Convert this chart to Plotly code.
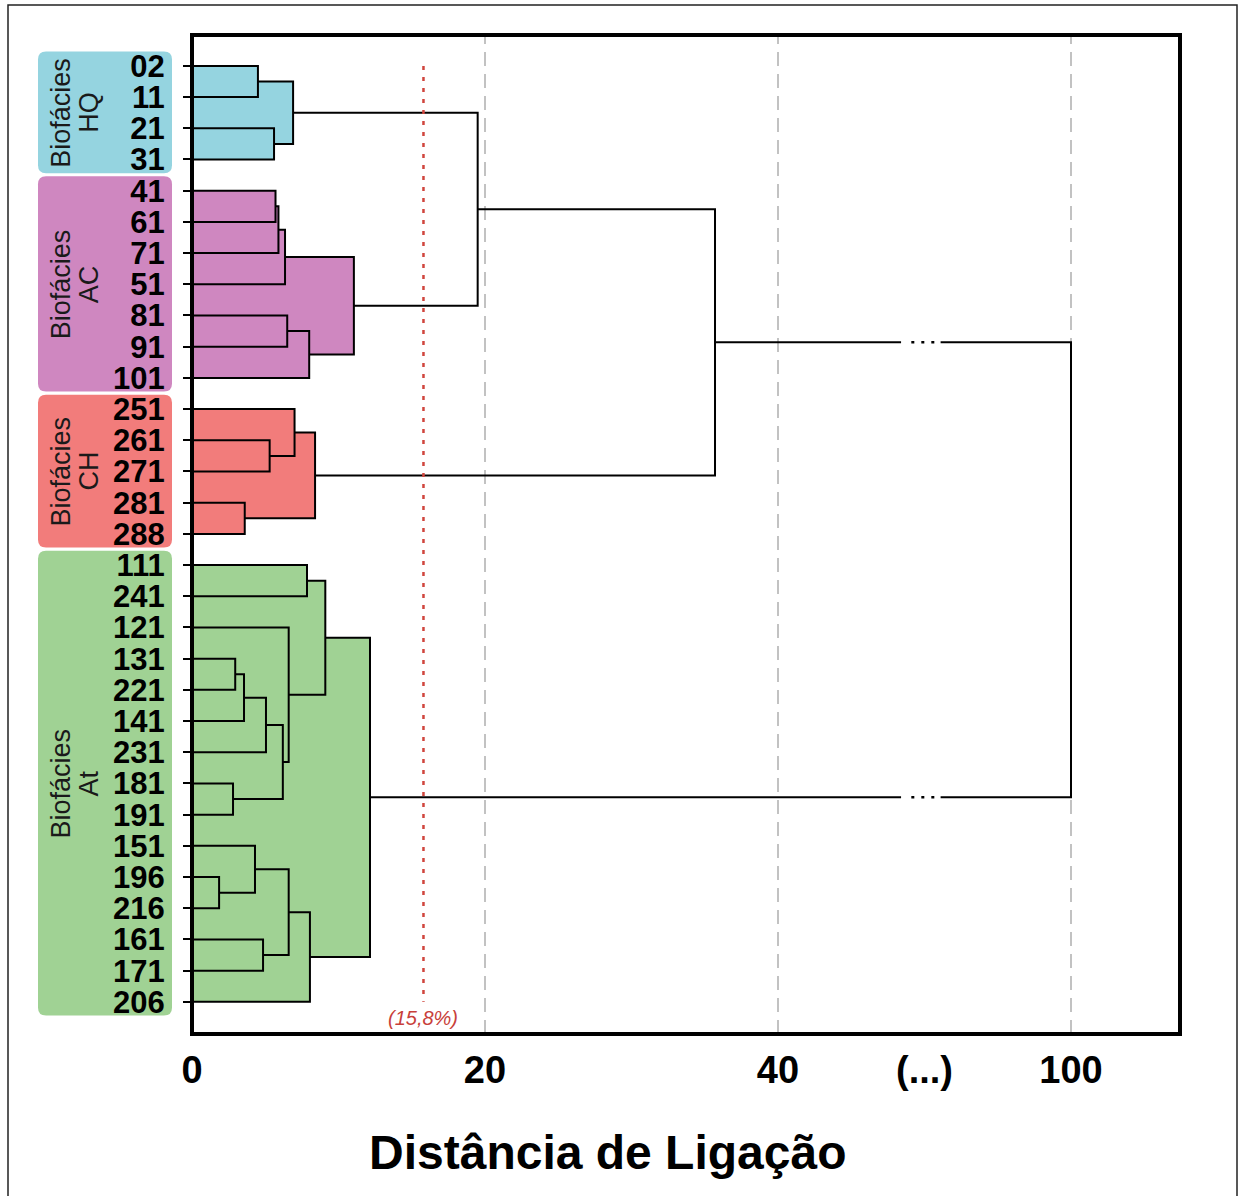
import plotly.graph_objects as go

# ---------------- data ----------------
leaves = ["02", "11", "21", "31",
          "41", "61", "71", "51", "81", "91", "101",
          "251", "261", "271", "281", "288",
          "111", "241", "121", "131", "221", "141", "231", "181", "191",
          "151", "196", "216", "161", "171", "206"]

merge_ids = ["a", "b", "HQ",
             "c", "d", "e", "f", "g", "AC",
             "h", "i", "j", "CH",
             "k", "l", "m", "n", "o", "p", "q", "r", "s", "t", "u", "v", "w", "At",
             "HA", "HAC", "ALL"]
merge_left = ["02", "21", "a",
              "41", "c", "d", "81", "f", "e",
              "261", "251", "281", "i",
              "111", "131", "l", "m", "181", "n", "121", "k", "196", "151", "161", "t", "v", "r",
              "HQ", "HA", "HAC"]
merge_right = ["11", "31", "b",
               "61", "71", "51", "91", "101", "g",
               "271", "h", "288", "j",
               "241", "221", "141", "231", "191", "o", "p", "q", "216", "s", "171", "u", "206", "w",
               "AC", "CH", "At"]
merge_height = [4.5, 5.6, 6.9,
                5.7, 5.9, 6.35, 6.5, 8.0, 11.05,
                5.3, 7.0, 3.6, 8.4,
                7.85, 2.95, 3.55, 5.05, 2.8, 6.2, 6.6, 9.1, 1.85, 4.3, 4.85, 6.6, 8.05, 12.15,
                19.5, 35.7, 100.0]

group_labels = ["HQ", "AC", "CH", "At"]
group_roots = ["HQ", "AC", "CH", "At"]
group_first = ["02", "41", "251", "111"]
group_last = ["31", "101", "288", "206"]
group_colors = ["#95d4e0", "#cf87c0", "#f27c7b", "#a0d294"]

cut_value = 15.8
cut_text = "(15,8%)"

axis_tick_real = [0, 20, 40, 100]
grid_real = [20, 40, 100]
break_text = "(...)"
x_title = "Distância de Ligação"
group_word = "Biofácies"

FONT = "Liberation Sans, Arial, sans-serif"

# ---------------- broken axis mapping ----------------
BREAK_LO, BREAK_HI, BREAK_SPAN = 40, 100, 20


def disp(v):
    return v if v <= BREAK_LO else BREAK_LO + BREAK_SPAN + (v - BREAK_HI)


BREAK_MID = BREAK_LO + BREAK_SPAN / 2
GAP_LO, GAP_HI = BREAK_MID - 1.6, BREAK_MID + 1.1
DOT_LO, DOT_HI = BREAK_MID - 0.9, BREAK_MID + 0.7

# ---------------- tree geometry ----------------
ypos = {name: float(i) for i, name in enumerate(leaves)}
hpos = {name: 0.0 for name in leaves}
children = {}
for mid, l, r, h in zip(merge_ids, merge_left, merge_right, merge_height):
    ypos[mid] = (ypos[l] + ypos[r]) / 2
    hpos[mid] = disp(h)
    children[mid] = (l, r)

line_x, line_y = [], []
dot_x, dot_y = [], []


def flush(pts):
    for (x, y) in pts:
        line_x.append(x)
        line_y.append(y)
    line_x.append(None)
    line_y.append(None)


def add_poly(pts):
    cur = [pts[0]]
    for (xa, ya), (xb, yb) in zip(pts[:-1], pts[1:]):
        lo_, hi_ = min(xa, xb), max(xa, xb)
        if ya == yb and lo_ < GAP_LO and hi_ > GAP_HI:
            first = GAP_LO if xa < xb else GAP_HI
            second = GAP_HI if xa < xb else GAP_LO
            cur.append((first, ya))
            flush(cur)
            dot_x.extend([DOT_LO, DOT_HI, None])
            dot_y.extend([ya, ya, None])
            cur = [(second, ya), (xb, yb)]
        else:
            cur.append((xb, yb))
    flush(cur)


for mid in merge_ids:
    l, r = children[mid]
    h = hpos[mid]
    add_poly([(hpos[l], ypos[l]), (h, ypos[l]), (h, ypos[r]), (hpos[r], ypos[r])])


def subtree(node):
    if node not in children:
        return []
    l, r = children[node]
    return [node] + subtree(l) + subtree(r)


# ---------------- figure ----------------
W, H = 1240, 1196
ML, MR, MT, MB = 192, 60, 35, 162
PW, PH = W - ML - MR, H - MT - MB
X_MAX = PW / 14.65
Y_TOP, Y_BOT = -0.99, len(leaves) - 1 + 1.03
Y_UNIT_PX = PH / (Y_BOT - Y_TOP)


def px_to_paper_x(px):
    return (px - ML) / PW


def px_to_paper_y(py):
    return (H - MB - py) / PH


shapes = []

# coloured envelopes of each biofacies cluster
for root, col in zip(group_roots, group_colors):
    for m in subtree(root):
        l, r = children[m]
        shapes.append(dict(type="rect", xref="x", yref="y", x0=0, x1=hpos[m],
                           y0=ypos[l], y1=ypos[r], fillcolor=col,
                           line=dict(width=0), layer="below"))

# dashed vertical reference lines
for g in grid_real:
    shapes.append(dict(type="line", xref="x", yref="paper", x0=disp(g), x1=disp(g),
                       y0=0, y1=1, line=dict(color="#c2c2c2", width=2, dash="14px,8px"),
                       layer="below"))

# rounded label boxes
bx0, bx1 = px_to_paper_x(38), px_to_paper_x(172)
rx = 8 / PW
ry = 8 / Y_UNIT_PX
for first, last, col in zip(group_first, group_last, group_colors):
    y0 = ypos[first] - 0.46
    y1 = ypos[last] + 0.44
    path = (f"M {bx0 + rx},{y0} L {bx1 - rx},{y0} Q {bx1},{y0} {bx1},{y0 + ry} "
            f"L {bx1},{y1 - ry} Q {bx1},{y1} {bx1 - rx},{y1} L {bx0 + rx},{y1} "
            f"Q {bx0},{y1} {bx0},{y1 - ry} L {bx0},{y0 + ry} Q {bx0},{y0} {bx0 + rx},{y0} Z")
    shapes.append(dict(type="path", xref="paper", yref="y", path=path,
                       fillcolor=col, line=dict(width=0), layer="below"))

# plot frame
shapes.append(dict(type="rect", xref="paper", yref="paper", x0=0, x1=1, y0=0, y1=1,
                   line=dict(color="black", width=4), fillcolor="rgba(0,0,0,0)", layer="above"))
# outer figure frame
shapes.append(dict(type="rect", xref="paper", yref="paper",
                   x0=px_to_paper_x(8), x1=px_to_paper_x(1237),
                   y0=px_to_paper_y(1230), y1=px_to_paper_y(5),
                   line=dict(color="#222222", width=1.5), fillcolor="rgba(0,0,0,0)", layer="above"))

fig = go.Figure()

fig.add_trace(go.Scatter(x=line_x, y=line_y, mode="lines",
                         line=dict(color="black", width=2), hoverinfo="skip",
                         showlegend=False))
fig.add_trace(go.Scatter(x=dot_x, y=dot_y, mode="lines",
                         line=dict(color="black", width=2.5, dash="3px,7px"),
                         hoverinfo="skip", showlegend=False))
fig.add_trace(go.Scatter(x=[cut_value, cut_value], y=[ypos[leaves[0]], ypos[leaves[-1]]],
                         mode="lines", line=dict(color="#d0453d", width=2.5, dash="4px,7px"),
                         hoverinfo="skip", showlegend=False))

annotations = []
for label, first, last in zip(group_labels, group_first, group_last):
    yc = (ypos[first] + ypos[last]) / 2
    annotations.append(dict(xref="paper", yref="y", x=px_to_paper_x(61), y=yc,
                            text=group_word, textangle=-90, showarrow=False,
                            font=dict(size=27, color="#1a1a1a", family=FONT),
                            xanchor="center", yanchor="middle"))
    annotations.append(dict(xref="paper", yref="y", x=px_to_paper_x(89), y=yc,
                            text=label, textangle=-90, showarrow=False,
                            font=dict(size=27, color="#1a1a1a", family=FONT),
                            xanchor="center", yanchor="middle"))

annotations.append(dict(xref="x", yref="y", x=cut_value, y=ypos[leaves[-1]] + 0.52,
                        text=f"<i>{cut_text}</i>", showarrow=False,
                        font=dict(size=20, color="#c8403a", family=FONT),
                        xanchor="center", yanchor="middle"))
annotations.append(dict(xref="paper", yref="paper", x=px_to_paper_x(608), y=px_to_paper_y(1152),
                        text=f"<b>{x_title}</b>", showarrow=False,
                        font=dict(size=48, color="black", family=FONT),
                        xanchor="center", yanchor="middle"))

x_tickvals = [disp(v) for v in axis_tick_real[:3]] + [BREAK_MID, disp(axis_tick_real[3])]
x_ticktext = [str(v) for v in axis_tick_real[:3]] + [break_text, str(axis_tick_real[3])]

fig.update_layout(
    width=W, height=H,
    margin=dict(l=ML, r=MR, t=MT, b=MB, pad=0),
    paper_bgcolor="white", plot_bgcolor="white",
    shapes=shapes, annotations=annotations,
    showlegend=False,
    xaxis=dict(range=[0, X_MAX], tickvals=x_tickvals, ticktext=x_ticktext,
               ticks="", showgrid=False, zeroline=False, showline=False,
               ticklabelstandoff=10,
               tickfont=dict(size=38, color="black", family=FONT, weight="bold")),
    yaxis=dict(range=[Y_BOT, Y_TOP], tickvals=[ypos[n] for n in leaves], ticktext=leaves,
               ticks="outside", ticklen=8, tickwidth=2, tickcolor="black",
               showgrid=False, zeroline=False, showline=False,
               ticklabelstandoff=12,
               tickfont=dict(size=31, color="black", family=FONT, weight="bold")),
)

fig.write_html("out.html")
